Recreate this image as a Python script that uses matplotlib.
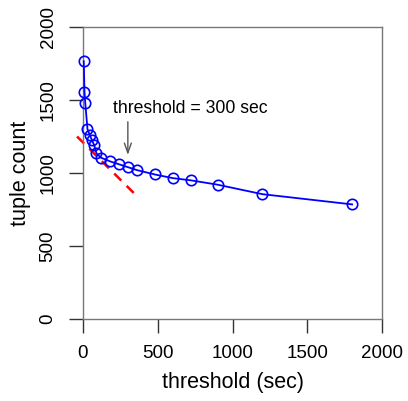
import matplotlib
matplotlib.use("Agg")
import matplotlib.pyplot as plt
import numpy as np

plt.rcParams['font.family'] = ['Liberation Sans', 'DejaVu Sans']

# data
threshold = [5, 10, 15, 30, 45, 60, 75, 90, 120, 180, 240, 300, 360, 480, 600, 720, 900, 1200, 1800]
tuples = [1765, 1555, 1480, 1300, 1260, 1225, 1190, 1135, 1105, 1080, 1060, 1040, 1020, 990, 965, 950, 920, 855, 785]

# red dashed trend line
trend_x = [-40, 370]
trend_y = [1250, 832]

ticks = [0, 500, 1000, 1500, 2000]

fig = plt.figure(figsize=(4.08, 4.01), dpi=100)
ax = fig.add_axes([83/408, 1 - 319/401, 299/408, 292/401])

ax.plot(trend_x, trend_y, color='red', lw=1.8, dashes=(4, 3), zorder=2, clip_on=False)
ax.plot(threshold, tuples, color='blue', lw=1.3, marker='o', ms=7.5,
        mfc='none', mec='blue', mew=1.2, zorder=3, clip_on=False)

ax.annotate('', xy=(300, 1105), xytext=(300, 1370),
            arrowprops=dict(arrowstyle='->,head_length=0.7,head_width=0.25',
                            color='#555555', lw=1.0))
ax.text(716, 1445, 'threshold = 300 sec', ha='center', va='center', fontsize=12.7)

ax.set_xlim(0, 2000)
ax.set_ylim(0, 2000)
ax.set_xticks(ticks)
ax.set_yticks(ticks)
ax.set_yticklabels([str(t) for t in ticks], rotation=90, va='center')
for s in ax.spines.values():
    s.set_color('#777777')
    s.set_linewidth(1.0)
ax.tick_params(direction='out', length=10, width=1.0, color='#333333',
               labelsize=13.5, pad=9)
ax.set_xlabel('threshold (sec)', fontsize=15.5, labelpad=7)
ax.set_ylabel('tuple count', fontsize=15.5, labelpad=6)

fig.savefig('out.png', dpi=100)
